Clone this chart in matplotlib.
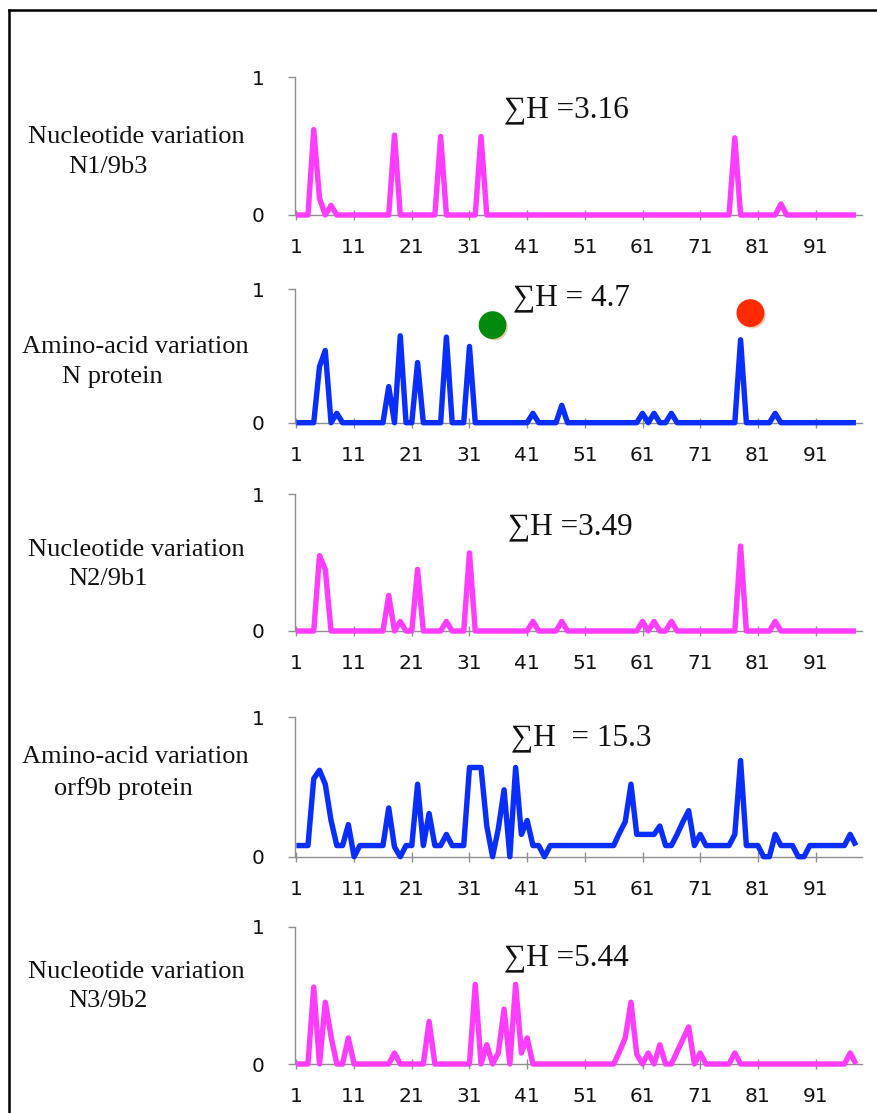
import numpy as np
import matplotlib.pyplot as plt
from matplotlib import patheffects as pe
from matplotlib.lines import Line2D

# canvas in pixels (dpi 100)
W, H = 877, 1113

# ===== data =====
positions = np.arange(1, 99)

n1_9b3 = [0, 0, 0, .62, .12, 0, .07, 0, 0, 0,
          0, 0, 0, 0, 0, 0, 0, .58, 0, 0,
          0, 0, 0, 0, 0, .57, 0, 0, 0, 0,
          0, 0, .57, 0, 0, 0, 0, 0, 0, 0,
          0, 0, 0, 0, 0, 0, 0, 0, 0, 0,
          0, 0, 0, 0, 0, 0, 0, 0, 0, 0,
          0, 0, 0, 0, 0, 0, 0, 0, 0, 0,
          0, 0, 0, 0, 0, 0, .56, 0, 0, 0,
          0, 0, 0, 0, .08, 0, 0, 0, 0, 0,
          0, 0, 0, 0, 0, 0, 0, 0]

n_protein = [0, 0, 0, 0, .42, .54, 0, .07, 0, 0,
             0, 0, 0, 0, 0, 0, .27, 0, .65, 0,
             0, .45, 0, 0, 0, 0, .64, 0, 0, 0,
             .57, 0, 0, 0, 0, 0, 0, 0, 0, 0,
             0, .07, 0, 0, 0, 0, .13, 0, 0, 0,
             0, 0, 0, 0, 0, 0, 0, 0, 0, 0,
             .07, 0, .07, 0, 0, .07, 0, 0, 0, 0,
             0, 0, 0, 0, 0, 0, 0, .62, 0, 0,
             0, 0, 0, .07, 0, 0, 0, 0, 0, 0,
             0, 0, 0, 0, 0, 0, 0, 0]

n2_9b1 = [0, 0, 0, 0, .55, .45, 0, 0, 0, 0,
          0, 0, 0, 0, 0, 0, .26, 0, .07, 0,
          0, .45, 0, 0, 0, 0, .07, 0, 0, 0,
          .57, 0, 0, 0, 0, 0, 0, 0, 0, 0,
          0, .07, 0, 0, 0, 0, .07, 0, 0, 0,
          0, 0, 0, 0, 0, 0, 0, 0, 0, 0,
          .07, 0, .07, 0, 0, .07, 0, 0, 0, 0,
          0, 0, 0, 0, 0, 0, 0, .62, 0, 0,
          0, 0, 0, .07, 0, 0, 0, 0, 0, 0,
          0, 0, 0, 0, 0, 0, 0, 0]

orf9b_protein = [.08, .08, .08, .56, .62, .52, .26, .08, .08, .23,
                 0, .08, .08, .08, .08, .08, .35, .07, 0, .08,
                 .08, .52, .08, .31, .08, .08, .16, .08, .08, .08,
                 .64, .64, .64, .22, 0, .20, .48, 0, .64, .16,
                 .26, .08, .08, 0, .08, .08, .08, .08, .08, .08,
                 .08, .08, .08, .08, .08, .08, .17, .25, .52, .16,
                 .16, .16, .16, .22, .08, .08, .16, .25, .33, .08,
                 .16, .08, .08, .08, .08, .08, .16, .69, .08, .08,
                 .08, 0, 0, .16, .08, .08, .08, 0, 0, .08,
                 .08, .08, .08, .08, .08, .08, .16, .08]

n3_9b2 = [0, 0, 0, .56, 0, .45, .20, 0, 0, .19,
          0, 0, 0, 0, 0, 0, 0, .08, 0, 0,
          0, 0, 0, .31, 0, 0, 0, 0, 0, 0,
          0, .58, 0, .14, 0, .08, .40, 0, .58, .08,
          .19, 0, 0, 0, 0, 0, 0, 0, 0, 0,
          0, 0, 0, 0, 0, 0, .09, .19, .45, .07,
          0, .08, 0, .14, 0, 0, .09, .18, .27, 0,
          .08, 0, 0, 0, 0, 0, .08, 0, 0, 0,
          0, 0, 0, 0, 0, 0, 0, 0, 0, 0,
          0, 0, 0, 0, 0, 0, .08, 0]

series = [n1_9b3, n_protein, n2_9b1, orf9b_protein, n3_9b2]
sum_h = ["\u2211H =3.16", "\u2211H = 4.7", "\u2211H =3.49", "\u2211H  = 15.3", "\u2211H =5.44"]
label_top = ["Nucleotide variation", "Amino-acid variation", "Nucleotide variation",
             "Amino-acid variation", "Nucleotide variation"]
label_bottom = ["N1/9b3", "N protein", "N2/9b1", "orf9b protein", "N3/9b2"]
kinds = ["nt", "aa", "nt", "aa", "nt"]

# highlighted sites on the N protein panel
dot_x = [35, 79.7]
dot_y = [0.73, 0.82]
dot_colors = ["#008a0e", "#ff2a00"]

xtick_pos = np.arange(1, 92, 10)

# ===== layout (pixels) =====
PINK = "#ff3cff"
BLUE = "#0a2eff"
GRAY = "#8f8f8f"
SERIF = ["Liberation Serif", "DejaVu Serif"]

ax_left, ax_right = 294.7, 861.7
ax_rows = [(77.3, 215.0), (289.0, 422.7), (494.0, 631.0), (717.3, 856.7), (926.7, 1064.0)]
label_rows = [(136.7, 166.7), (346.7, 377.0), (550.0, 579.3), (757.3, 788.3), (972.0, 1001.0)]
label_x = [(28.3, 68.3), (21.7, 61.7), (28.3, 68.3), (21.7, 54.3), (28.3, 68.3)]
sum_pos = [(504, 110), (513, 298), (508, 527), (511, 738), (504, 958)]

fig = plt.figure(figsize=(W / 100, H / 100), dpi=100)

for i, vals in enumerate(series):
    top, bot = ax_rows[i]
    ax = fig.add_axes([ax_left / W, 1 - bot / H, (ax_right - ax_left) / W, (bot - top) / H])
    color = PINK if kinds[i] == "nt" else BLUE
    ax.plot(positions, vals, color=color, linewidth=3.9, clip_on=False,
            solid_joinstyle="round", solid_capstyle="butt", zorder=3)

    ax.set_xlim(0.7, 99.0)
    ax.set_ylim(0, 1)
    ax.set_xticks(xtick_pos)
    ax.set_xticklabels([str(t) for t in xtick_pos])
    ax.set_yticks([0, 1])
    ax.set_yticklabels(["0", "1"])
    for s in ["top", "right"]:
        ax.spines[s].set_visible(False)
    for s in ["left", "bottom"]:
        ax.spines[s].set_color(GRAY)
        ax.spines[s].set_linewidth(1.0)
    ax.tick_params(axis="x", direction="inout", length=7, width=1, color=GRAY,
                   labelsize=14.5, pad=13, labelcolor="#111111")
    ax.tick_params(axis="y", direction="out", length=5, width=1, color=GRAY,
                   labelsize=14.5, pad=16.5, labelcolor="#111111")
    ax.patch.set_alpha(0)

    if i == 1:
        for x, y, c in zip(dot_x, dot_y, dot_colors):
            ax.plot([x], [y], marker="o", markersize=19, color=c, linestyle="none",
                    clip_on=False, zorder=5,
                    path_effects=[pe.SimplePatchShadow(offset=(1.5, -1.5),
                                                       shadow_rgbFace="#d08a40", alpha=0.45),
                                  pe.Normal()])

    # sum of entropy label
    sx, sy = sum_pos[i]
    fig.text(sx / W, 1 - sy / H, sum_h[i], family=SERIF, fontsize=22.5,
             ha="left", va="center", color="#111111")

    # panel labels on the left
    y1, y2 = label_rows[i]
    x1, x2 = label_x[i]
    fig.text(x1 / W, 1 - y1 / H, label_top[i], family=SERIF, fontsize=19,
             ha="left", va="center", color="#111111")
    fig.text(x2 / W, 1 - y2 / H, label_bottom[i], family=SERIF, fontsize=19,
             ha="left", va="center", color="#111111")

# frame around the figure (only top and left edges are inside the canvas)
fig.add_artist(Line2D([8.7 / W, 8.7 / W], [0, 1 - 9.7 / H], color="black", linewidth=1.8))
fig.add_artist(Line2D([8.7 / W, 1], [1 - 9.7 / H, 1 - 9.7 / H], color="black", linewidth=1.8))

fig.savefig("out.png", dpi=100)
